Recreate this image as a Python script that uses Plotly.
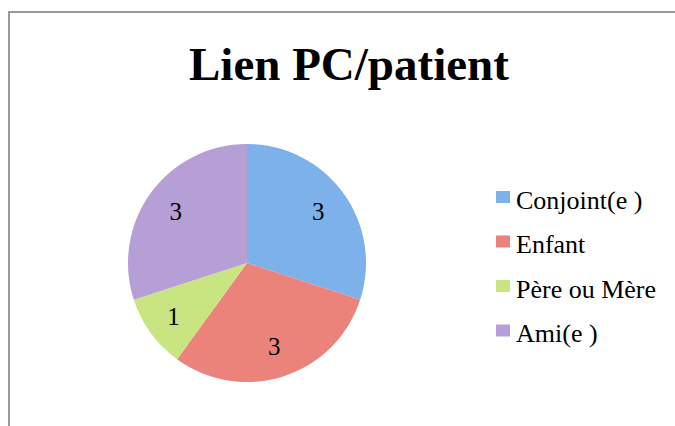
import plotly.graph_objects as go

title = "Lien PC/patient"
labels = ["Conjoint(e )", "Enfant", "Père ou Mère", "Ami(e )"]
values = [3, 3, 1, 3]
colors = ["#7DB1EA", "#EC837A", "#C8E581", "#B69ED7"]

W, H = 675, 426
cx, cy, r = 247, 263, 119
FONT = "Liberation Serif, Times New Roman, serif"
dom = dict(x=[(cx - r) / W, (cx + r) / W], y=[1 - (cy + r) / H, 1 - (cy - r) / H])

fig = go.Figure()
fig.add_trace(go.Pie(
    labels=labels, values=values, sort=False, direction="clockwise", rotation=0,
    marker=dict(colors=colors, line=dict(width=0)),
    textinfo="none", domain=dom, showlegend=False, hoverinfo="label+value",
))
# transparent ring carrying the value labels (places them further out)
fig.add_trace(go.Pie(
    labels=labels, values=values, sort=False, direction="clockwise", rotation=0, hole=0.48,
    marker=dict(colors=["rgba(0,0,0,0)"] * len(values), line=dict(width=0)),
    textinfo="value", textposition="inside", insidetextorientation="horizontal",
    textfont=dict(family=FONT, size=25, color="black"),
    domain=dom, showlegend=False, hoverinfo="skip",
))

annotations = [dict(text="<b>" + title + "</b>", x=349 / W, y=1 - 64 / H, xref="paper", yref="paper",
                    xanchor="center", yanchor="middle", showarrow=False,
                    font=dict(family=FONT, size=47, color="black"))]
shapes = [dict(type="rect", xref="paper", yref="paper", x0=9 / W, x1=1.05, y0=-0.05, y1=1 - 12 / H,
               line=dict(color="#999999", width=2), fillcolor="rgba(0,0,0,0)")]

ly0, lgap = 197, 44.5
for i, (lab, col) in enumerate(zip(labels, colors)):
    yc = ly0 + i * lgap
    shapes.append(dict(type="rect", xref="paper", yref="paper",
                       x0=496 / W, x1=510 / W, y0=1 - (yc + 6) / H, y1=1 - (yc - 6) / H,
                       line=dict(width=0), fillcolor=col))
    annotations.append(dict(text=lab, x=514 / W, y=1 - (yc + 3) / H, xref="paper", yref="paper",
                            xanchor="left", yanchor="middle", showarrow=False,
                            font=dict(family=FONT, size=26, color="black")))

fig.update_layout(
    width=W, height=H, margin=dict(l=0, r=0, t=0, b=0),
    paper_bgcolor="white", plot_bgcolor="white",
    annotations=annotations, shapes=shapes,
)
fig.write_html("out.html", config={"displayModeBar": False},
               post_script="document.body.style.margin='0';")
